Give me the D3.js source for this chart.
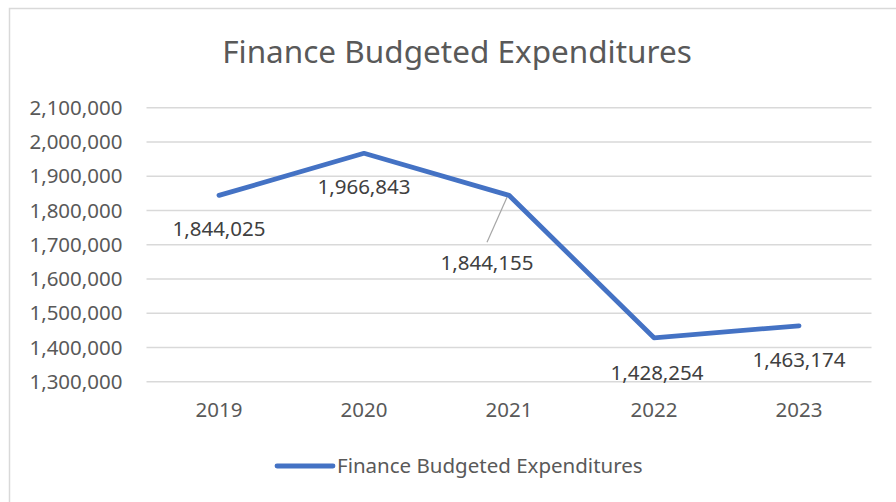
<!DOCTYPE html>
<html>
<head>
<meta charset="utf-8">
<script src="https://cdn.jsdelivr.net/npm/d3@7"></script>
<style>
  body { margin: 0; background: #fff; }
  text { font-family: "Noto Sans", "Open Sans", sans-serif; }
</style>
</head>
<body>
<svg id="chart" width="896" height="502"></svg>
<script>
// chart data
const years = ["2019", "2020", "2021", "2022", "2023"];
const values = [1844025, 1966843, 1844155, 1428254, 1463174];
const yTicks = [1300000, 1400000, 1500000, 1600000, 1700000, 1800000, 1900000, 2000000, 2100000];
const seriesName = "Finance Budgeted Expenditures";
const title = "Finance Budgeted Expenditures";

// label offsets relative to point (px)
const labelOff = [[0, 34], [0, 34], [-22, 68], [3, 35], [0, 34]];

const svg = d3.select("#chart");
const blue = "#4472C4";

// outer frame
svg.append("rect")
   .attr("x", 9.5).attr("y", 8.5)
   .attr("width", 900).attr("height", 520)
   .attr("fill", "#fff")
   .attr("stroke", "#d9d9d9")
   .attr("stroke-width", 1.5);

let x = d3.scaleBand()
          .domain(years)
          .range([146.5, 871.5]);

let y = d3.scaleLinear()
          .domain([1300000, 2100000])
          .range([381.7, 107.7]);

svg.append("text")
   .attr("x", 457).attr("y", 63)
   .attr("text-anchor", "middle")
   .attr("fill", "#595959")
   .style("font-size", "31.5px")
   .text(title);

// gridlines
svg.append("g").selectAll("line")
   .data(yTicks)
   .join("line")
   .attr("x1", 146.5).attr("x2", 871.5)
   .attr("y1", d => y(d)).attr("y2", d => y(d))
   .attr("stroke", "#d9d9d9")
   .attr("stroke-width", 1.5);

let yAxis = d3.axisLeft(y)
              .tickValues(yTicks)
              .tickFormat(d3.format(","))
              .tickSize(0)
              .tickPadding(24);

let gy = svg.append("g")
            .attr("transform", "translate(146.5,0)")
            .call(yAxis);
gy.select(".domain").remove();
gy.selectAll("text")
  .attr("fill", "#595959")
  .style("font-size", "20.5px")
  .style("font-family", "Noto Sans");

let xAxis = d3.axisBottom(x).tickSize(0).tickPadding(21);
let gx = svg.append("g")
            .attr("transform", "translate(0,381.7)")
            .call(xAxis);
gx.select(".domain").remove();
gx.selectAll("text")
  .attr("fill", "#595959")
  .style("font-size", "20.5px")
  .style("font-family", "Noto Sans");

const pts = years.map((yr, i) => ({year: yr, value: values[i]}));

let lineGen = d3.line()
                .x(d => x(d.year) + x.bandwidth() / 2)
                .y(d => y(d.value));

// leader line for 2021 label
let px21 = x("2021") + x.bandwidth() / 2;
svg.append("line")
   .attr("x1", px21 - 2).attr("y1", y(values[2]) + 2)
   .attr("x2", px21 - 22).attr("y2", y(values[2]) + 47)
   .attr("stroke", "#a6a6a6")
   .attr("stroke-width", 1.2);

svg.append("path")
   .datum(pts)
   .attr("d", lineGen)
   .attr("fill", "none")
   .attr("stroke", blue)
   .attr("stroke-width", 4.8)
   .attr("stroke-linejoin", "round")
   .attr("stroke-linecap", "round");

svg.append("g").selectAll("text")
   .data(pts)
   .join("text")
   .attr("x", (d, i) => x(d.year) + x.bandwidth() / 2 + labelOff[i][0])
   .attr("y", (d, i) => y(d.value) + labelOff[i][1] + 7)
   .attr("text-anchor", "middle")
   .attr("fill", "#404040")
   .style("font-size", "20.5px")
   .text(d => d3.format(",")(d.value));

// legend
let lg = svg.append("g").attr("transform", "translate(277,466)");
lg.append("line")
  .attr("x1", 0).attr("x2", 56)
  .attr("stroke", blue)
  .attr("stroke-width", 4.8)
  .attr("stroke-linecap", "round");
lg.append("text")
  .attr("x", 60).attr("y", 7)
  .attr("fill", "#595959")
  .style("font-size", "20.5px")
  .text(seriesName);
</script>
</body>
</html>
